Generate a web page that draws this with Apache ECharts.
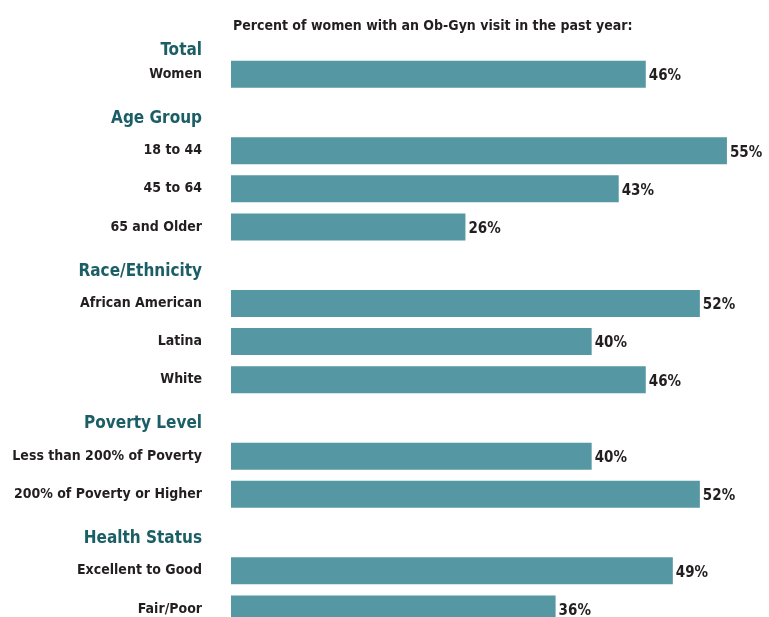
<!DOCTYPE html>
<html>
<head>
<meta charset="utf-8">
<script src="https://cdn.jsdelivr.net/npm/echarts@6/dist/echarts.min.js"></script>
<style>
  html, body { margin: 0; padding: 0; background: #fff; }
  #chart { width: 769px; height: 617px; }
</style>
</head>
<body>
<div id="chart"></div>
<script>
var FONT = '"Liberation Sans Narrow", "DejaVu Sans Condensed", sans-serif'
var COLORS = {
  bar: '#5597a2',
  header: '#1b5e66',
  text: '#231f20'
}

// rows top to bottom; group headers have no value
var categories = [
  'Total', 'Women',
  'Age Group', '18 to 44', '45 to 64', '65 and Older',
  'Race/Ethnicity', 'African American', 'Latina', 'White',
  'Poverty Level', 'Less than 200% of Poverty', '200% of Poverty or Higher',
  'Health Status', 'Excellent to Good', 'Fair/Poor'
]
var headers = ['Total', 'Age Group', 'Race/Ethnicity', 'Poverty Level', 'Health Status']
var values = [
  null, 46,
  null, 55, 43, 26,
  null, 52, 40, 46,
  null, 40, 52,
  null, 49, 36
]

var chart = echarts.init(document.getElementById('chart'))
chart.setOption({
  animation: false,
  textStyle: { fontFamily: FONT },
  title: {
    text: 'Percent of women with an Ob-Gyn visit in the past year:',
    left: 228,
    top: 14,
    textStyle: { fontFamily: FONT, fontSize: 14, fontWeight: 'bold', color: COLORS.text }
  },
  grid: { left: 231, top: 17, width: 541, height: 611, outerBoundsMode: 'none', containLabel: false },
  xAxis: {
    type: 'value',
    min: 0,
    max: 60,
    show: false
  },
  yAxis: {
    type: 'category',
    inverse: true,
    data: categories,
    axisLine: { show: false },
    axisTick: { show: false },
    axisLabel: {
      margin: 29,
      fontFamily: FONT,
      fontSize: 14,
      fontWeight: 'bold',
      color: COLORS.text,
      formatter: function (v, i) {
        if (i === 0) return '{t|' + v + '}'
        return headers.indexOf(v) >= 0 ? '{h|' + v + '}' : v
      },
      rich: {
        t: { fontFamily: FONT, fontSize: 17, fontWeight: 'bold', color: COLORS.header, padding: [28, 0, 0, 0] },
        h: { fontFamily: FONT, fontSize: 17, fontWeight: 'bold', color: COLORS.header, padding: [12, 0, 0, 0] }
      }
    }
  },
  series: [{
    type: 'bar',
    data: values,
    barWidth: 27,
    itemStyle: { color: COLORS.bar },
    label: {
      show: true,
      position: 'right',
      distance: 3,
      offset: [0, 2],
      formatter: '{c}%',
      fontFamily: FONT,
      fontSize: 15,
      fontWeight: 'bold',
      color: COLORS.text
    }
  }]
})
</script>
</body>
</html>
